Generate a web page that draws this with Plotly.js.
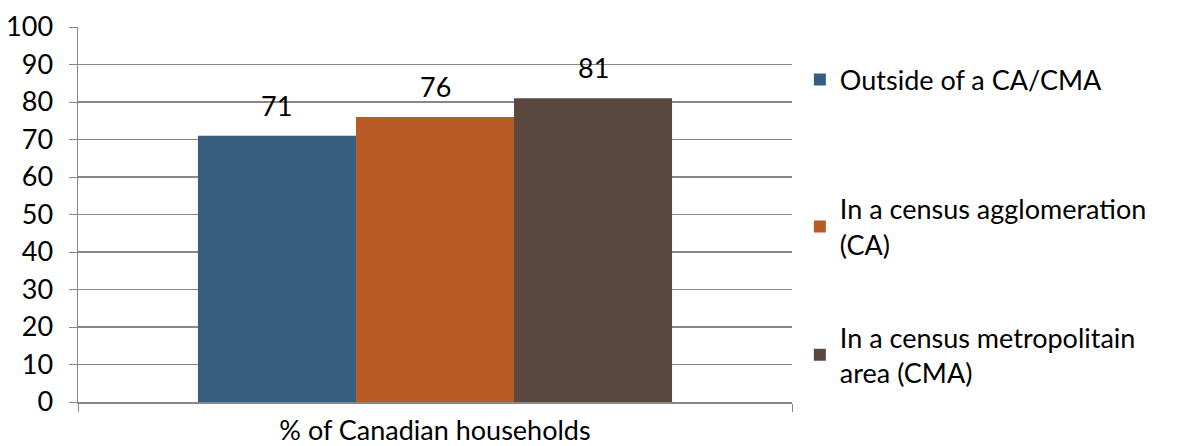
<!DOCTYPE html>
<html><head><meta charset="utf-8">
<script src="https://cdn.plot.ly/plotly-3.0.1.min.js"></script>
<style>body{margin:0;background:#fff}#c{width:1178px;height:446px}</style>
</head><body><div id="c"></div>
<script>
var categories = ["% of Canadian households"];
var seriesNames = ["Outside of a CA/CMA", "In a census agglomeration<br>(CA)", "In a census metropolitain<br>area (CMA)"];
var outsideVals = [71];
var caVals = [76];
var cmaVals = [81];
var yTicks = [0,10,20,30,40,50,60,70,80,90,100];

var colors = ["#375E7E", "#B85B24", "#5A4840"];
var allVals = [outsideVals, caVals, cmaVals];
var legendIds = ["legend", "legend2", "legend3"];
var FONT = "Lato, 'Noto Sans', sans-serif";
var FS = 27;
var bargap = 0.336;

var traces = allVals.map(function(v, i){
  return {type:'bar', x:categories, y:v, name:seriesNames[i],
    marker:{color:colors[i]}, legend:legendIds[i], hoverinfo:'none'};
});

var groupW = 1 - bargap, barW = groupW / 3;
var annotations = [];
allVals.forEach(function(v, i){
  v.forEach(function(val, j){
    annotations.push({xref:'x', yref:'y', x: j - groupW/2 + barW*(i+0.5), y: val,
      text: String(val), showarrow:false, yanchor:'bottom', yshift:12,
      font:{family:FONT, size:FS, color:'#000'}});
  });
});

function leg(y){
  return {x:1.011, xanchor:'left', y:y, yanchor:'middle', bgcolor:'rgba(0,0,0,0)',
    font:{family:FONT, size:FS, color:'#000'}, itemclick:false};
}

var layout = {
  width:1178, height:446,
  margin:{l:78, r:386, t:27, b:44},
  paper_bgcolor:'#fff', plot_bgcolor:'#fff',
  barmode:'group', bargap:bargap, bargroupgap:0,
  font:{family:FONT, size:FS, color:'#000'},
  showlegend:true,
  legend:leg(0.859), legend2:leg(0.467), legend3:leg(0.125),
  xaxis:{type:'category', showticklabels:false, tickson:'boundaries', ticks:'outside', ticklen:8,
    tickcolor:'#888', showline:true, linecolor:'#888', linewidth:1.5, showgrid:false,
    title:{text:categories[0], font:{family:FONT, size:FS, color:'#000'}, standoff:22}, fixedrange:true},
  yaxis:{range:[0,100], tickvals:yTicks, ticks:'outside', ticklen:8, tickcolor:'#888',
    showline:true, linecolor:'#888', linewidth:1.5, gridcolor:'#888', gridwidth:1.5,
    ticklabelstandoff:10,
    zeroline:false, tickfont:{family:FONT, size:FS, color:'#000'}, fixedrange:true},
  annotations:annotations
};
Plotly.newPlot('c', traces, layout, {displayModeBar:false, staticPlot:true});
</script></body></html>
